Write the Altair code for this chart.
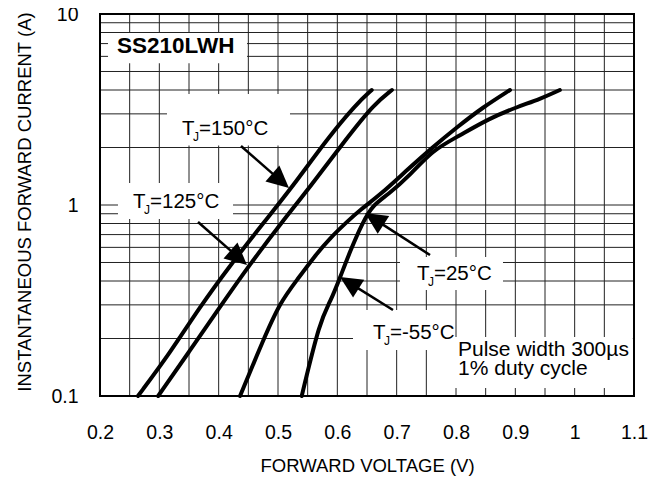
import math
import altair as alt
import pandas as pd

# ---------------- data ----------------
# forward voltage (V) / forward current (A) for each junction temperature
V_150 = [0.264, 0.318, 0.367, 0.421, 0.478, 0.524, 0.584, 0.632, 0.658]
I_150 = [0.1, 0.168, 0.289, 0.491, 0.824, 1.242, 2.243, 3.379, 4.0]

V_125 = [0.298, 0.350, 0.401, 0.453, 0.508, 0.554, 0.616, 0.662, 0.692]
I_125 = [0.1, 0.170, 0.289, 0.491, 0.824, 1.242, 2.243, 3.379, 4.0]

V_25 = [0.436, 0.475, 0.503, 0.532, 0.566, 0.588, 0.616, 0.638, 0.672, 0.714, 0.761, 0.802, 0.846, 0.891]
I_25 = [0.1, 0.196, 0.307, 0.405, 0.561, 0.672, 0.815, 0.94, 1.13, 1.49, 2.01, 2.56, 3.26, 4.0]

V_M55 = [0.540, 0.571, 0.588, 0.605, 0.621, 0.643, 0.660, 0.685, 0.723, 0.761, 0.802, 0.857, 0.903, 0.942, 0.975]
I_M55 = [0.1, 0.25, 0.31, 0.42, 0.568, 0.815, 1.0, 1.13, 1.436, 1.94, 2.27, 2.85, 3.26, 3.59, 4.0]

X_TICKS = [0.2, 0.3, 0.4, 0.5, 0.6, 0.7, 0.8, 0.9, 1.0, 1.1]
Y_TICKS = [0.1, 1, 10]
GRID_V = [0.25, 0.3, 0.35, 0.4, 0.45, 0.5, 0.55, 0.6, 0.65, 0.7, 0.75, 0.8, 0.85, 0.9, 0.95, 1.0, 1.05]
GRID_I = [0.2, 0.3, 0.4, 0.5, 0.6, 0.7, 0.8, 0.9, 1, 2, 3, 4, 5, 6, 7, 8, 9]

# temperature labels: "T", "J", rest ; anchor = left of "=" (V, I at baseline)
LBL_REST = ["=150°C", "=125°C", "=25°C", "=-55°C"]
LBL_V = [0.3652, 0.2826, 0.7612, 0.6871]
LBL_I = [2.325, 0.9645, 0.405, 0.1988]

# arrows: tail -> tip (V, I)
ARR_TAIL_V = [0.4376, 0.3652, 0.7562, 0.6938]
ARR_TAIL_I = [2.036, 0.815, 0.547, 0.282]
ARR_TIP_V = [0.5185, 0.4478, 0.6466, 0.6045]
ARR_TIP_I = [1.227, 0.485, 0.908, 0.420]

# white label boxes (V1, V2, I1, I2)
BOX_V1 = [0.2135, 0.3129, 0.2303, 0.7056, 0.6264, 0.7983]
BOX_V2 = [0.4478, 0.5202, 0.4242, 0.8792, 0.7983, 1.098]
BOX_I1 = [7.95, 3.81, 1.304, 0.534, 0.282, 0.2037]
BOX_I2 = [5.53, 2.05, 0.845, 0.359, 0.174, 0.110]

PULSE_TEXT = ["Pulse width 300µs", "1% duty cycle"]
PULSE_V = [0.8034, 0.8034]
PULSE_I = [0.162, 0.1288]

# ---------------- layout ----------------
W, H = 534, 382
FONT = "Liberation Sans"
XD = [0.2, 1.1]
YD = [0.1, 10]


def to_px(v, i):
    return ((v - XD[0]) / (XD[1] - XD[0]) * W,
            (1 - math.log10(i / YD[0]) / math.log10(YD[1] / YD[0])) * H)


def to_data(x, y):
    return (XD[0] + x / W * (XD[1] - XD[0]),
            YD[0] * 10 ** ((1 - y / H) * math.log10(YD[1] / YD[0])))


HEAD = 22.0
arrows = []
for tv, ti, hv, hi in zip(ARR_TAIL_V, ARR_TAIL_I, ARR_TIP_V, ARR_TIP_I):
    tx, ty = to_px(tv, ti)
    hx, hy = to_px(hv, hi)
    dx, dy = hx - tx, hy - ty
    L = math.hypot(dx, dy)
    ux, uy = dx / L, dy / L
    bv, bi = to_data(hx - ux * HEAD * 0.7, hy - uy * HEAD * 0.7)
    ang = math.degrees(math.atan2(dx, -dy)) % 360
    arrows.append(dict(V=tv, I=ti, V2=bv, I2=bi, TV=hv, TI=hi, ang=ang))
arrows = pd.DataFrame(arrows)

rows = []
for name, vs, is_ in [("150", V_150, I_150), ("125", V_125, I_125),
                      ("25", V_25, I_25), ("-55", V_M55, I_M55)]:
    for k, (v, i) in enumerate(zip(vs, is_)):
        rows.append(dict(series=name, V=v, I=i, k=k))
curves = pd.DataFrame(rows)

xs = alt.Scale(domain=XD, zero=False, nice=False)
ys = alt.Scale(type="log", domain=YD, nice=False)

x_axis = alt.Axis(values=X_TICKS, format=".1~f", title="FORWARD VOLTAGE (V)",
                  grid=False, domain=False, ticks=True, tickSize=0,
                  labelFontSize=19.5, labelPadding=27.5, labelFlush=False,
                  labelOverlap=False, labelColor="black", labelFont=FONT,
                  titleFontSize=18.5, titleFontWeight="normal", titleColor="black",
                  titleFont=FONT, titleY=75, titleBaseline="alphabetic")
y_axis = alt.Axis(values=Y_TICKS, format="~g", title="INSTANTANEOUS FORWARD CURRENT (A)",
                  grid=False, domain=False, ticks=True, tickSize=0,
                  labelFontSize=19.5, labelPadding=22, labelColor="black", labelFont=FONT,
                  labelOverlap=False,
                  titleFontSize=18.5, titleFontWeight="normal", titleColor="black",
                  titleFont=FONT, titleX=-70, titleY=187.5, titleAngle=270,
                  titleAlign="center", titleBaseline="alphabetic")


def X(f="V"):
    return alt.X(f + ":Q", scale=xs, axis=x_axis)


def Y(f="I"):
    return alt.Y(f + ":Q", scale=ys, axis=y_axis)


gv = alt.Chart(pd.DataFrame({"V": GRID_V})).mark_rule(color="#222", strokeWidth=1).encode(x=X())
gi = alt.Chart(pd.DataFrame({"I": GRID_I})).mark_rule(color="#222", strokeWidth=1).encode(y=Y())

boxes = alt.Chart(pd.DataFrame({"V": BOX_V1, "V2": BOX_V2, "I": BOX_I1, "I2": BOX_I2})).mark_rect(
    color="white", opacity=1
).encode(x=X(), x2="V2:Q", y=Y(), y2="I2:Q")

curve_layer = alt.Chart(curves).mark_line(
    color="black", strokeWidth=4, strokeCap="round", strokeJoin="round", interpolate="basis"
).encode(x=X(), y=Y(), detail="series:N", order="k:Q")

shafts = alt.Chart(arrows).mark_rule(color="black", strokeWidth=2.5).encode(
    x=X(), x2="V2:Q", y=Y(), y2="I2:Q")

heads = alt.Chart(arrows).mark_point(
    shape="M0,0L0.48,1L-0.48,1Z", filled=True, color="black", opacity=1,
    size=(2 * HEAD) ** 2, strokeWidth=0
).encode(x=X("TV"), y=Y("TI"), angle=alt.Angle("ang:Q", scale=None))

lbl = pd.DataFrame({"V": LBL_V, "I": LBL_I, "rest": LBL_REST,
                    "T": ["T"] * 4, "J": ["J"] * 4})
t_T = alt.Chart(lbl).mark_text(align="left", baseline="alphabetic", fontSize=20.5,
                               font=FONT, color="black", dx=-16).encode(x=X(), y=Y(), text="T:N")
t_J = alt.Chart(lbl).mark_text(align="left", baseline="alphabetic", fontSize=12,
                               font=FONT, color="black", dx=-5, dy=6).encode(x=X(), y=Y(), text="J:N")
t_R = alt.Chart(lbl).mark_text(align="left", baseline="alphabetic", fontSize=20.5,
                               font=FONT, color="black", dx=1).encode(x=X(), y=Y(), text="rest:N")

part = alt.Chart(pd.DataFrame({"V": [0.2287], "I": [6.25], "t": ["SS210LWH"]})).mark_text(
    align="left", baseline="alphabetic", fontSize=22.5, fontWeight="bold", font=FONT, color="black"
).encode(x=X(), y=Y(), text="t:N")

pulse = alt.Chart(pd.DataFrame({"V": PULSE_V, "I": PULSE_I, "t": PULSE_TEXT})).mark_text(
    align="left", baseline="alphabetic", fontSize=21, font=FONT, color="black"
).encode(x=X(), y=Y(), text="t:N")

frame = alt.Chart(pd.DataFrame({"V": [XD[0]], "V2": [XD[1]], "I": [YD[0]], "I2": [YD[1]]})).mark_rect(
    fillOpacity=0, stroke="black", strokeWidth=2
).encode(x=X(), x2="V2:Q", y=Y(), y2="I2:Q")

chart = alt.layer(
    gv, gi, boxes, curve_layer, shafts, heads, t_T, t_J, t_R, part, pulse, frame
).properties(
    width=W, height=H,
    autosize=alt.AutoSizeParams(type="none"),
    padding={"left": 92, "top": 6, "right": 14, "bottom": 81},
).configure_view(stroke="transparent").configure(font=FONT)

chart.save("out.html", embed_options={"renderer": "svg", "actions": False})
